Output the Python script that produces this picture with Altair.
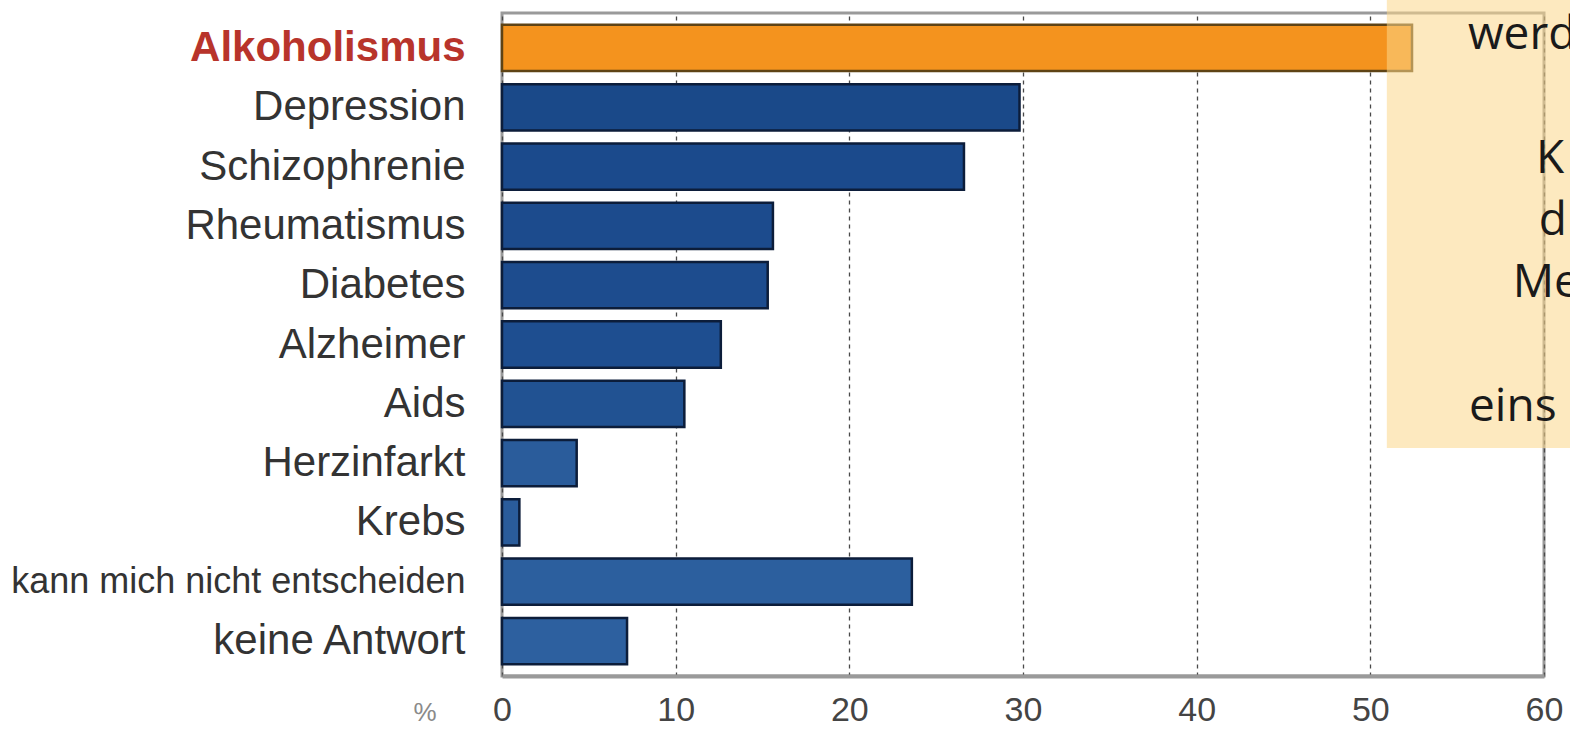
import altair as alt
import pandas as pd

# ---- data ----
categories = ["Alkoholismus", "Depression", "Schizophrenie", "Rheumatismus", "Diabetes",
              "Alzheimer", "Aids", "Herzinfarkt", "Krebs",
              "kann mich nicht entscheiden", "keine Antwort"]
values = [52.4, 29.8, 26.6, 15.6, 15.3, 12.6, 10.5, 4.3, 1.0, 23.6, 7.2]
bar_fill = ["#f4931e", "#1a4989", "#1b4a8c", "#1c4b8d", "#1d4c8e", "#1e4e90",
            "#215292", "#2a5c9b", "#2a5c9b", "#2c5f9e", "#2d609f"]
bar_stroke = ["#5e4315"] + ["#0c1d3a"] * 10
x_ticks = [0, 10, 20, 30, 40, 50, 60]
note_lines = ["werd", "K", "d", "Me", "eins"]

df = pd.DataFrame({"cat": categories, "val": values, "fill": bar_fill, "stroke": bar_stroke})

W, H = 1042, 663

x_enc = alt.X(
    "val:Q",
    scale=alt.Scale(domain=[0, 60], nice=False, zero=True),
    axis=alt.Axis(
        values=x_ticks, title=None, grid=True, gridDash=[4, 4], gridColor="#4a4a4a",
        gridWidth=1.3, ticks=False, domain=True, domainColor="#9a9a9a", domainWidth=4,
        labelFont="Liberation Sans", labelFontSize=34, labelColor="#444444",
        labelPadding=17, labelFlush=False,
    ),
)
y_enc = alt.Y(
    "cat:N",
    sort=categories,
    scale=alt.Scale(paddingInner=0.22, paddingOuter=0.2),
    axis=alt.Axis(
        title=None, domain=False, ticks=False, grid=False, labelPadding=37, labelLimit=700,
        labelFont="Liberation Sans",
        labelFontSize=alt.expr("datum.value == 'kann mich nicht entscheiden' ? 36 : 42"),
        labelColor=alt.expr("datum.value == 'Alkoholismus' ? '#b8342b' : '#333333'"),
        labelFontWeight=alt.expr("datum.value == 'Alkoholismus' ? 'bold' : 'normal'"),
    ),
)

bars = alt.Chart(df).mark_bar(strokeWidth=2.5).encode(
    x=x_enc,
    y=y_enc,
    fill=alt.Fill("fill:N", scale=None),
    stroke=alt.Stroke("stroke:N", scale=None),
)

one = pd.DataFrame({"a": [0]})

box = alt.Chart(one).mark_rect(fill="#fcd78a", opacity=0.55).encode(
    x=alt.datum(50.95), x2=alt.value(1300), y=alt.value(-13), y2=alt.value(435)
)

note_pos = [(55.62, 36), (59.54, 160), (59.7, 222), (58.2, 284), (55.68, 408)]
notes = []
for txt, (nx, ny) in zip(note_lines, note_pos):
    notes.append(
        alt.Chart(one).mark_text(
            text=txt, font="Open Sans", fontSize=46, color="#1a1a1a",
            align="left", baseline="alphabetic",
        ).encode(x=alt.datum(nx), y=alt.value(ny))
    )

pct = alt.Chart(one).mark_text(
    text="%", font="Liberation Sans", fontSize=26, color="#8a8a8a", baseline="middle"
).encode(x=alt.value(-77), y=alt.value(700))

chart = alt.layer(bars, box, *notes, pct).properties(
    width=W, height=H,
    padding={"left": 502, "top": 13, "right": 26, "bottom": 57},
    autosize=alt.AutoSizeParams(type="none"),
    background="white",
).configure_view(stroke="#9a9a9a", strokeWidth=3)

chart.save("out.html", embed_options={"renderer": "svg", "actions": False})
